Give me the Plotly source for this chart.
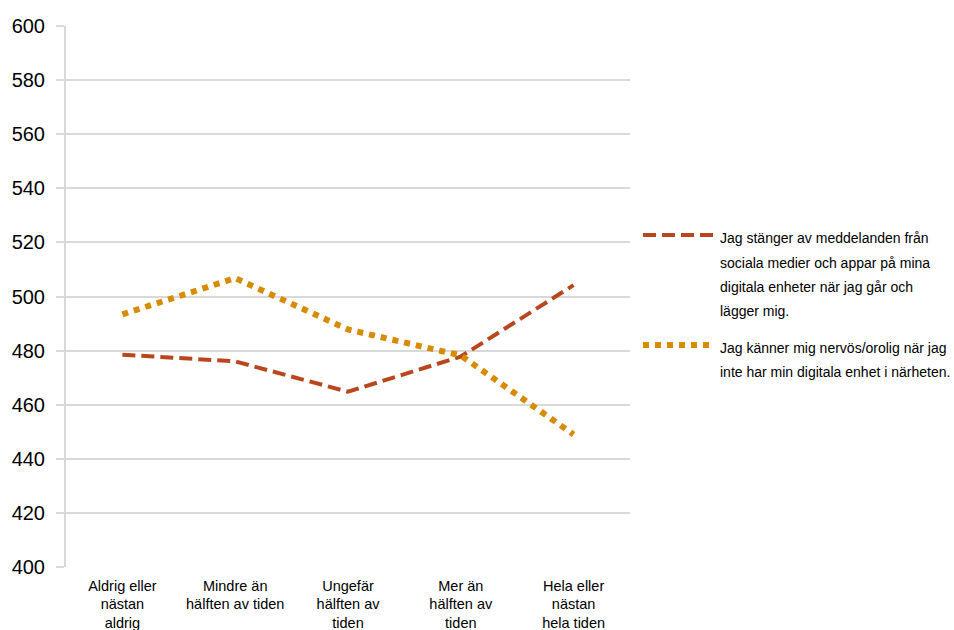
import plotly.graph_objects as go

# Response categories on the x axis
categories = [
    "Aldrig eller<br>nästan<br>aldrig",
    "Mindre än<br>hälften av tiden",
    "Ungefär<br>hälften av<br>tiden",
    "Mer än<br>hälften av<br>tiden",
    "Hela eller<br>nästan<br>hela tiden",
]

# Mean scores per category
stanger_av = [478.5, 476.0, 464.8, 477.8, 504.2]
nervos = [493.4, 506.8, 487.8, 478.2, 449.0]

series_names = [
    ["Jag stänger av meddelanden från",
     "sociala medier och appar på mina",
     "digitala enheter när jag går och",
     "lägger mig."],
    ["Jag känner mig nervös/orolig när jag",
     "inte har min digitala enhet i närheten."],
]

y_ticks = [400, 420, 440, 460, 480, 500, 520, 540, 560, 580, 600]

RUST = "#B8471E"
GOLD = "#D78C00"
FONT = "Liberation Sans, Arial, sans-serif"

W, H = 954, 630
M_L, M_R, M_T, M_B = 66, 324, 26, 63
PW, PH = W - M_L - M_R, H - M_T - M_B

x_idx = list(range(len(categories)))

fig = go.Figure()
fig.add_trace(go.Scatter(
    x=x_idx, y=stanger_av, mode="lines",
    line=dict(color=RUST, width=4, dash="13px,6px"),
    name=" ".join(series_names[0]), showlegend=False,
))
fig.add_trace(go.Scatter(
    x=x_idx, y=nervos, mode="lines",
    line=dict(color=GOLD, width=6, dash="6px,6px"),
    name=" ".join(series_names[1]), showlegend=False,
))


def px_x(px):
    return (px - M_L) / PW


def px_y(py):
    return (H - M_B - py) / PH


# Legend drawn as line samples plus spaced text rows
legend_items = [
    (RUST, 4, "13px,6px", 235, [238, 263, 287, 311]),
    (GOLD, 6, "6px,6px", 345, [348, 372]),
]
annotations = []
shapes = []
for (color, width, dash, sym_y, rows), lines in zip(legend_items, series_names):
    shapes.append(dict(
        type="line", xref="paper", yref="paper",
        x0=px_x(643), x1=px_x(714), y0=px_y(sym_y), y1=px_y(sym_y),
        line=dict(color=color, width=width, dash=dash),
    ))
    for text, ry in zip(lines, rows):
        annotations.append(dict(
            text=text, xref="paper", yref="paper",
            x=px_x(718), y=px_y(ry), xanchor="left", yanchor="middle",
            showarrow=False, font=dict(family=FONT, size=14, color="#000000"),
        ))

fig.update_layout(
    width=W, height=H,
    margin=dict(l=M_L, r=M_R, t=M_T, b=M_B, pad=0),
    paper_bgcolor="white", plot_bgcolor="white",
    font=dict(family=FONT, color="#000000"),
    annotations=annotations, shapes=shapes,
    xaxis=dict(
        tickmode="array", tickvals=x_idx, ticktext=categories,
        range=[-0.5, len(categories) - 0.5],
        showgrid=False, zeroline=False, showline=False, ticks="",
        tickfont=dict(family=FONT, size=14.5, color="#000000"),
        ticklabelstandoff=8, automargin=False,
    ),
    yaxis=dict(
        range=[400, 600], tickmode="array", tickvals=y_ticks,
        showgrid=True, gridcolor="#D9D9D9", gridwidth=2,
        zeroline=False, showline=True, linecolor="#D9D9D9", linewidth=2,
        ticks="outside", ticklen=8, tickcolor="#D9D9D9", tickwidth=2,
        tickfont=dict(family=FONT, size=20, color="#000000"),
        ticklabelstandoff=7, automargin=False,
    ),
)

fig.write_html("out.html")
